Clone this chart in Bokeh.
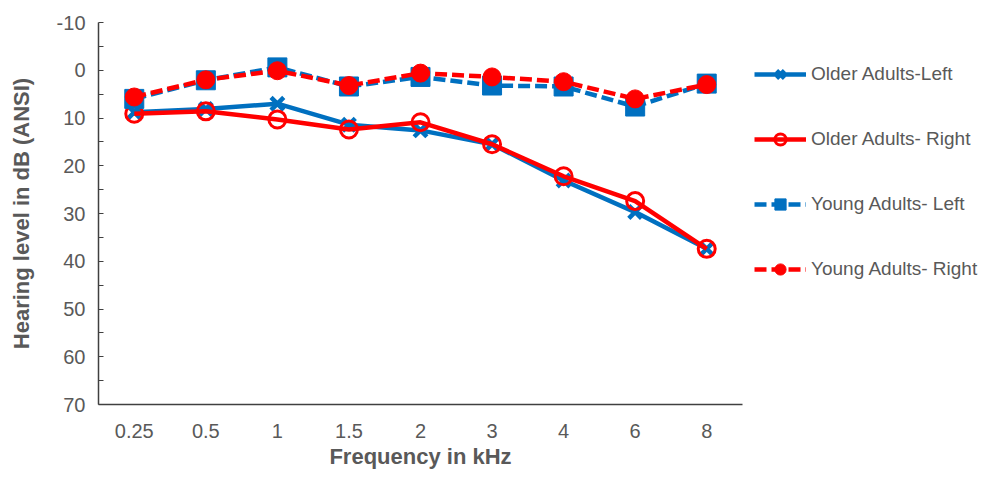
from bokeh.plotting import figure
from bokeh.models import FactorRange, Range1d, FixedTicker, Legend, LegendItem
from bokeh.embed import file_html
from bokeh.resources import INLINE

freqs = ["0.25", "0.5", "1", "1.5", "2", "3", "4", "6", "8"]
older_left = [8.8, 8.1, 7.0, 11.4, 12.6, 15.5, 23.1, 29.7, 37.4]
older_right = [9.1, 8.6, 10.3, 12.4, 10.9, 15.5, 22.2, 27.4, 37.4]
young_left = [6.0, 2.1, -0.6, 3.4, 1.4, 3.2, 3.4, 7.6, 2.8]
young_right = [5.6, 2.0, 0.1, 3.2, 0.6, 1.4, 2.4, 6.0, 3.0]
labels = ["Older Adults-Left", "Older Adults- Right", "Young Adults- Left", "Young Adults- Right"]
y_ticks = [-10, 0, 10, 20, 30, 40, 50, 60, 70]
y_minor = [-5, 5, 15, 25, 35, 45, 55, 65]

BLUE = "#0070C0"
RED = "#FF0000"
TXT = "#595959"
AX = "#404040"
FONT = "Liberation Sans"

p = figure(x_range=FactorRange(*freqs), y_range=Range1d(70, -10),
           frame_width=644, frame_height=382, output_backend="svg", toolbar_location=None,
           min_border_left=98, min_border_right=247, min_border_top=22, min_border_bottom=67)

r1 = p.line(freqs, older_left, line_color=BLUE, line_width=4.5)
m1 = p.scatter(freqs, older_left, marker="x", size=18, line_color=BLUE, line_width=4.5)
r2 = p.line(freqs, older_right, line_color=RED, line_width=4.5)
m2 = p.scatter(freqs, older_right, marker="circle", size=17, line_color=RED, fill_color=None, line_width=3)
r3 = p.line(freqs, young_left, line_color=BLUE, line_width=4.5, line_dash="12 5")
m3 = p.scatter(freqs, young_left, marker="square", size=19, line_color=BLUE, fill_color=BLUE)
r4 = p.line(freqs, young_right, line_color=RED, line_width=4.5, line_dash="12 5")
m4 = p.scatter(freqs, young_right, marker="circle", size=18, line_color=RED, fill_color=RED)

legend = Legend(items=[LegendItem(label=labels[0], renderers=[r1, m1]),
                       LegendItem(label=labels[1], renderers=[r2, m2]),
                       LegendItem(label=labels[2], renderers=[r3, m3]),
                       LegendItem(label=labels[3], renderers=[r4, m4])],
                location=(12, 121), glyph_width=52, glyph_height=28, label_standoff=5,
                spacing=37, padding=0, margin=0, border_line_color=None, background_fill_alpha=0,
                label_text_font_size="19px", label_text_color=TXT, label_text_font=FONT)
p.add_layout(legend, "right")

p.xgrid.visible = False
p.ygrid.visible = False
p.outline_line_color = None

p.yaxis.ticker = FixedTicker(ticks=y_ticks, minor_ticks=y_minor)
p.yaxis.major_label_overrides = {-10: "-10"}
p.yaxis.major_tick_in = 5
p.yaxis.major_tick_out = 0
p.yaxis.minor_tick_in = 5
p.yaxis.minor_tick_out = 0
p.yaxis.major_tick_line_color = AX
p.yaxis.minor_tick_line_color = AX
p.yaxis.major_label_standoff = 13
p.yaxis.axis_label = "Hearing level in dB (ANSI)"
p.yaxis.axis_label_standoff = 20

p.xaxis.major_tick_line_color = None
p.xaxis.minor_tick_line_color = None
p.xaxis.major_label_standoff = 13
p.xaxis.axis_label = "Frequency in kHz"
p.xaxis.axis_label_standoff = 3

for ax in (p.xaxis, p.yaxis):
    ax.axis_line_color = AX
    ax.axis_line_width = 1.5
    ax.major_label_text_font = FONT
    ax.major_label_text_font_size = "20px"
    ax.major_label_text_color = TXT
    ax.axis_label_text_font = FONT
    ax.axis_label_text_font_size = "22px"
    ax.axis_label_text_font_style = "bold"
    ax.axis_label_text_color = TXT

open("out.html", "w").write(file_html(p, INLINE))
